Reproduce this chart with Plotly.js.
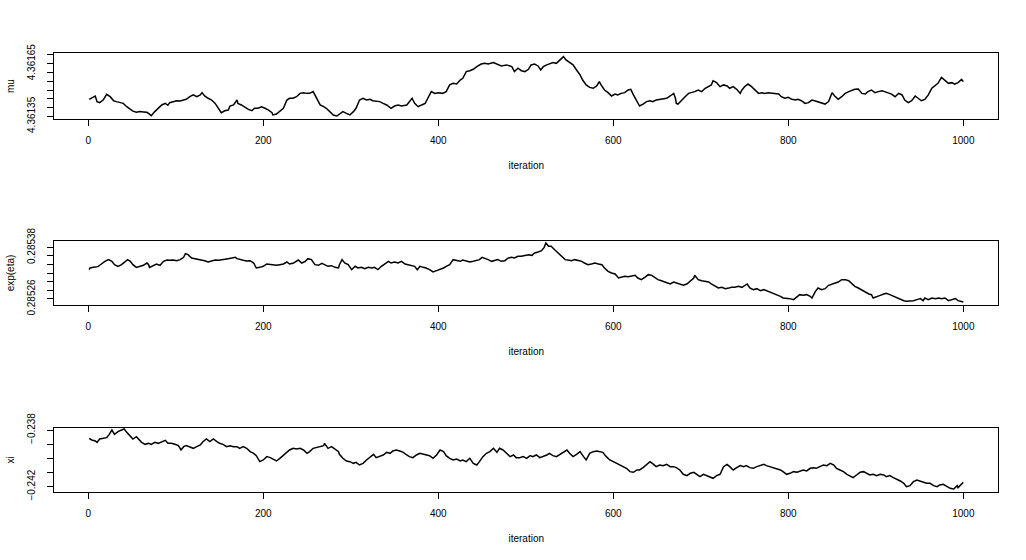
<!DOCTYPE html>
<html>
<head>
<meta charset="utf-8">
<script src="https://cdn.plot.ly/plotly-3.0.1.min.js"></script>
<style>html,body{margin:0;padding:0;background:#fff;}#chart{width:1026px;height:560px;}</style>
</head>
<body>
<div id="chart"></div>
<script>
// ---- data ----
const iterMu = [1,6,8,10,13,17,21,25,29,32,36,40,44,48,51,55,59,63,67,70,72,76,80,84,88,91,93,97,101,105,109,112,116,120,124,128,130,133,137,141,145,149,152,156,160,162,166,170,171,175,179,183,187,190,194,198,202,206,210,211,215,219,223,227,230,234,238,242,246,250,253,257,259,263,265,269,272,276,280,284,
287,291,295,299,303,306,310,314,318,322,325,329,333,337,341,346,350,354,358,364,367,370,373,377,381,385,388,392,396,400,405,409,413,417,421,425,428,432,436,440,444,449,453,457,463,467,472,478,484,487,491,495,499,503,506,510,514,517,520,524,527,531,535,539,543,546,550,554,558,562,565,569,573,577,581,584,586,590,594,598,602,605,609,613,617,620,623,626,630,634,638,642,645,649,655,661,
665,669,671,672,674,678,682,686,690,693,697,701,705,709,712,714,718,722,726,730,733,737,741,745,747,750,754,758,762,766,770,773,777,783,789,792,796,800,804,808,811,815,819,823,827,830,834,838,842,846,850,853,857,861,865,869,872,876,880,884,888,891,895,899,903,907,910,914,918,922,926,930,933,937,941,945,949,952,956,960,964,968,971,975,979,983,987,990,994,998,1000];
const mu = [4.361447,4.361458,4.361466,4.361434,4.361428,4.361443,4.361475,4.361462,4.361439,4.361434,
4.361428,4.361424,4.361405,4.361390,4.361380,4.361373,4.361377,4.361375,4.361373,4.361363,
4.361354,4.361377,4.361396,4.361415,4.361424,4.361413,4.361428,4.361434,4.361439,4.361437,
4.361443,4.361447,4.361462,4.361472,4.361462,4.361472,4.361485,4.361466,4.361453,4.361443,
4.361424,4.361396,4.361371,4.361382,4.361386,4.361409,4.361415,4.361443,4.361424,4.361415,
4.361401,4.361390,4.361382,4.361396,4.361396,4.361405,4.361396,4.361386,4.361371,4.361358,
4.361363,4.361377,4.361396,4.361443,4.361453,4.361453,4.361462,4.361481,4.361485,4.361481,
4.361481,4.361491,4.361472,4.361443,4.361415,4.361405,4.361396,4.361377,4.361358,4.361352,
4.361363,4.361377,4.361367,4.361358,4.361377,4.361396,4.361443,4.361453,4.361443,4.361447,
4.361439,4.361437,4.361434,4.361424,4.361415,4.361396,4.361409,4.361415,4.361409,4.361415,
4.361434,4.361453,4.361424,4.361405,4.361415,4.361424,4.361453,4.361491,4.361481,4.361485,
4.361481,4.361491,4.361529,4.361538,4.361534,4.361557,4.361567,4.361605,4.361610,4.361618,
4.361633,4.361648,4.361652,4.361648,4.361656,4.361648,4.361637,4.361643,4.361633,4.361605,
4.361624,4.361610,4.361605,4.361618,4.361643,4.361648,4.361637,4.361614,4.361633,4.361643,
4.361648,4.361656,4.361652,4.361671,4.361690,4.361671,4.361656,4.361643,4.361614,4.361586,
4.361557,4.361529,4.361515,4.361510,4.361523,4.361548,4.361529,4.361500,4.361485,4.361466,
4.361477,4.361472,4.361481,4.361485,4.361500,4.361504,4.361472,4.361443,4.361409,4.361420,
4.361434,4.361439,4.361434,4.361443,4.361447,4.361453,
4.361466,4.361481,4.361453,4.361424,4.361420,4.361443,4.361462,4.361481,4.361485,4.361491,
4.361500,4.361491,4.361510,4.361519,4.361529,4.361553,4.361542,4.361519,4.361529,4.361523,
4.361510,4.361519,4.361504,4.361481,4.361500,4.361519,4.361534,4.361519,4.361500,4.361481,
4.361485,4.361481,4.361485,4.361481,4.361477,4.361462,4.361453,4.361458,4.361447,4.361443,
4.361447,4.361439,4.361424,4.361428,4.361443,4.361439,4.361434,4.361428,4.361420,4.361434,
4.361485,4.361466,4.361447,4.361462,4.361481,4.361491,4.361496,4.361504,4.361506,4.361481,
4.361477,4.361491,4.361500,4.361485,4.361491,4.361496,4.361491,4.361485,4.361477,4.361462,
4.361481,4.361472,4.361443,4.361428,4.361439,4.361466,4.361453,4.361439,4.361447,4.361472,
4.361510,4.361529,4.361538,4.361572,4.361557,4.361538,4.361542,4.361534,4.361542,4.361561,
4.361548];

const iterEta = [1,2,6,11,15,19,23,27,30,34,38,42,45,48,51,55,59,63,67,69,70,74,78,82,86,90,93,97,101,105,109,111,114,118,122,126,130,133,137,141,145,149,152,156,160,164,168,170,173,177,181,185,189,192,196,200,204,208,211,215,219,223,227,230,234,238,240,244,248,251,255,259,263,267,270,274,278,282,286,
287,290,293,297,301,305,308,312,316,320,324,327,331,335,339,343,346,350,354,358,362,366,369,373,376,379,383,386,390,394,398,402,406,409,413,417,421,425,428,432,436,440,444,447,450,453,457,461,465,468,472,476,480,484,487,491,495,499,503,507,510,514,518,521,523,526,529,533,537,541,545,548,552,556,560,564,567,571,575,579,583,587,590,594,598,602,606,609,613,617,621,625,628,632,636,640,644,647,651,655,659,663,
665,669,672,676,680,684,688,692,693,697,701,705,709,712,716,720,724,728,732,735,739,743,747,751,753,756,760,764,768,772,775,779,783,787,791,794,798,802,806,810,813,817,821,825,827,831,834,838,842,846,850,853,857,861,865,869,872,876,880,884,888,892,895,897,901,905,909,912,916,920,924,928,932,935,939,943,947,951,954,956,960,964,968,972,975,979,983,987,991,994,998,1000];
const expEta = [0.2853282,0.2853321,0.2853336,0.2853352,0.2853414,0.2853476,0.2853515,0.2853476,0.2853398,0.2853360,
0.2853398,0.2853476,0.2853515,0.2853476,0.2853398,0.2853336,0.2853360,0.2853383,0.2853437,0.2853398,
0.2853336,0.2853383,0.2853414,0.2853383,0.2853476,0.2853507,0.2853499,0.2853507,0.2853491,0.2853515,
0.2853569,0.2853654,0.2853631,0.2853553,0.2853538,0.2853515,0.2853515,0.2853491,0.2853460,0.2853491,
0.2853507,0.2853499,0.2853515,0.2853522,0.2853538,0.2853553,0.2853569,0.2853538,0.2853515,0.2853499,
0.2853484,0.2853491,0.2853437,0.2853321,0.2853336,0.2853360,0.2853414,0.2853398,0.2853398,0.2853383,
0.2853398,0.2853414,0.2853460,0.2853414,0.2853429,0.2853476,0.2853507,0.2853437,0.2853476,0.2853538,
0.2853515,0.2853398,0.2853383,0.2853429,0.2853398,0.2853360,0.2853375,0.2853336,0.2853321,
0.2853398,0.2853515,0.2853437,0.2853398,0.2853282,0.2853360,0.2853321,0.2853336,0.2853305,0.2853336,
0.2853321,0.2853336,0.2853282,0.2853360,0.2853414,0.2853476,0.2853437,0.2853460,0.2853437,0.2853476,
0.2853414,0.2853398,0.2853383,0.2853360,0.2853282,0.2853360,0.2853336,0.2853321,0.2853282,0.2853228,
0.2853259,0.2853282,0.2853321,0.2853360,0.2853398,0.2853515,0.2853491,0.2853476,0.2853507,0.2853476,
0.2853460,0.2853476,0.2853491,0.2853515,0.2853569,0.2853538,0.2853515,0.2853476,0.2853491,0.2853515,
0.2853476,0.2853491,0.2853553,0.2853569,0.2853553,0.2853592,0.2853592,0.2853615,0.2853631,0.2853615,
0.2853670,0.2853693,0.2853724,0.2853801,0.2853902,0.2853825,0.2853825,0.2853747,0.2853670,0.2853592,
0.2853515,0.2853507,0.2853491,0.2853515,0.2853491,0.2853476,0.2853437,0.2853398,0.2853414,0.2853437,
0.2853414,0.2853398,0.2853321,0.2853243,0.2853205,0.2853181,0.2853088,0.2853104,0.2853127,0.2853119,
0.2853127,0.2853150,0.2853088,0.2853050,0.2853104,0.2853166,0.2853150,0.2853104,0.2853050,0.2853026,
0.2852995,0.2852949,
0.2852949,0.2852995,0.2852972,0.2852933,0.2852918,0.2852949,0.2853011,0.2853088,0.2853150,0.2853050,
0.2853026,0.2853011,0.2852995,0.2852949,0.2852895,0.2852856,0.2852871,0.2852840,0.2852856,0.2852871,
0.2852871,0.2852895,0.2852871,0.2852918,0.2852949,0.2852856,0.2852817,0.2852840,0.2852794,0.2852817,
0.2852794,0.2852763,0.2852740,0.2852701,0.2852662,0.2852623,0.2852623,0.2852608,0.2852585,0.2852662,
0.2852701,0.2852685,0.2852701,0.2852662,0.2852623,0.2852778,0.2852856,0.2852817,0.2852840,0.2852918,
0.2852949,0.2852972,0.2852995,0.2853050,0.2853050,0.2853026,0.2852972,0.2852895,0.2852856,0.2852817,
0.2852763,0.2852716,0.2852701,0.2852623,0.2852662,0.2852685,0.2852716,0.2852732,0.2852701,0.2852662,
0.2852623,0.2852585,0.2852561,0.2852546,0.2852546,0.2852561,0.2852585,0.2852608,0.2852561,0.2852623,
0.2852585,0.2852623,0.2852608,0.2852623,0.2852608,0.2852623,0.2852561,0.2852585,0.2852608,0.2852561,
0.2852546,0.2852530];

const iterXi = [1,4,8,10,13,17,21,24,27,30,34,38,41,44,48,51,55,57,61,65,69,72,76,80,84,88,91,95,99,103,106,109,112,116,120,124,128,131,135,139,143,147,150,154,158,162,166,170,173,177,181,185,189,192,196,200,204,208,211,215,219,223,227,230,234,238,242,246,250,253,257,261,265,269,270,274,278,282,286,
287,291,295,299,303,306,310,314,318,322,326,329,333,337,341,345,348,352,356,360,364,367,371,375,379,383,386,390,394,398,402,406,409,413,417,421,425,428,432,436,440,444,447,451,455,459,463,467,470,474,478,482,486,489,493,497,501,505,508,512,516,520,524,527,531,535,539,543,547,550,554,558,562,566,569,573,577,581,585,588,592,596,600,604,607,611,615,619,623,627,630,634,638,642,646,649,653,657,661,665,
669,672,676,680,684,688,692,695,699,703,707,711,714,718,722,726,730,733,737,741,745,749,752,756,760,764,768,772,775,779,783,787,791,794,798,802,806,810,813,817,821,825,829,832,836,840,844,848,852,855,859,863,867,871,874,878,882,886,890,893,897,901,905,909,912,916,920,924,928,932,935,939,943,947,951,954,958,962,966,970,973,977,981,985,989,993,994,998,1000];
const xi = [-0.238588,-0.238706,-0.238776,-0.238871,-0.238635,-0.238588,-0.238541,-0.238306,-0.238000,-0.238306,
-0.238118,-0.238000,-0.237929,-0.238165,-0.238471,-0.238635,-0.238471,-0.238588,-0.238871,-0.239012,
-0.238941,-0.239012,-0.238871,-0.238941,-0.238824,-0.238729,-0.238941,-0.238941,-0.239012,-0.239106,
-0.239412,-0.239177,-0.239106,-0.239177,-0.239294,-0.239177,-0.239059,-0.238824,-0.238635,-0.238824,
-0.238635,-0.238824,-0.238941,-0.239012,-0.239177,-0.239106,-0.239177,-0.239177,-0.239294,-0.239177,
-0.239294,-0.239529,-0.239647,-0.239812,-0.240235,-0.240118,-0.239882,-0.239953,-0.240047,-0.240188,
-0.240000,-0.239765,-0.239577,-0.239412,-0.239294,-0.239341,-0.239294,-0.239412,-0.239647,-0.239529,
-0.239294,-0.239247,-0.239177,-0.239106,-0.238941,-0.239294,-0.239177,-0.239341,-0.239529,
-0.239718,-0.240000,-0.240188,-0.240235,-0.240353,-0.240282,-0.240471,-0.240353,-0.240118,-0.239882,
-0.239718,-0.239953,-0.239882,-0.239765,-0.239577,-0.239647,-0.239482,-0.239412,-0.239482,-0.239577,
-0.239765,-0.239882,-0.239953,-0.239765,-0.239647,-0.239718,-0.239718,-0.239812,-0.240000,-0.239765,
-0.239412,-0.239529,-0.239812,-0.240000,-0.240118,-0.240047,-0.240188,-0.240118,-0.240235,-0.240000,
-0.240353,-0.240471,-0.240235,-0.239882,-0.239647,-0.239529,-0.239294,-0.239577,-0.239294,-0.239412,
-0.239647,-0.239882,-0.239765,-0.239953,-0.239953,-0.239882,-0.240000,-0.239812,-0.239882,-0.239765,
-0.239953,-0.239882,-0.239765,-0.239647,-0.239812,-0.239882,-0.239718,-0.239577,-0.239412,-0.239647,
-0.239882,-0.239718,-0.239529,-0.239882,-0.240118,-0.239647,-0.239529,-0.239482,-0.239529,-0.239577,
-0.239882,-0.240118,-0.240235,-0.240353,-0.240424,-0.240588,-0.240706,-0.240941,-0.240988,-0.240824,
-0.240824,-0.240659,-0.240471,-0.240235,-0.240424,-0.240588,-0.240471,-0.240518,-0.240424,-0.240588,
-0.240588,-0.240659,-0.240824,-0.241129,-0.241224,-0.241059,-0.240988,-0.241129,-0.241294,-0.241129,
-0.241224,-0.241365,-0.241412,-0.241224,-0.241129,-0.240588,-0.240424,-0.240588,-0.240824,-0.240659,
-0.240518,-0.240588,-0.240518,-0.240659,-0.240706,-0.240588,-0.240518,-0.240424,-0.240518,-0.240588,
-0.240659,-0.240753,-0.240824,-0.240941,-0.241129,-0.241059,-0.240941,-0.240988,-0.240894,-0.240824,
-0.240894,-0.240706,-0.240659,-0.240706,-0.240588,-0.240471,-0.240518,-0.240353,-0.240471,-0.240706,
-0.240824,-0.240941,-0.241129,-0.241294,-0.241365,-0.241177,-0.240988,-0.240941,-0.241059,-0.241177,
-0.241129,-0.241224,-0.241129,-0.241177,-0.241294,-0.241224,-0.241365,-0.241459,-0.241600,-0.241765,
-0.242000,-0.241930,-0.241647,-0.241530,-0.241600,-0.241647,-0.241765,-0.241765,-0.241930,-0.242000,
-0.241882,-0.241835,-0.242000,-0.242118,-0.242165,-0.241930,-0.242071,-0.241765,-0.241694];

// tick labels
const xTicks = [0, 200, 400, 600, 800, 1000];
const muTicks = [4.36135, 4.3614, 4.36145, 4.3615, 4.36155, 4.3616, 4.36165, 4.3617];
const muTickText = ['4.36135', '', '', '', '', '', '4.36165', ''];
const etaTicks = [0.28526, 0.28528, 0.2853, 0.28532, 0.28534, 0.28536, 0.28538];
const etaTickText = ['0.28526', '', '', '', '', '', '0.28538'];
const xiTicks = [-0.242, -0.241, -0.24, -0.239, -0.238];
const xiTickText = ['\u22120.242', '', '', '', '\u22120.238'];
const yNames = ['mu', 'exp(eta)', 'xi'];

// ---- chart ----
const font = {family: 'Liberation Sans, Arial, Helvetica, sans-serif', size: 10, color: '#000'};
const lineStyle = {color: '#000', width: 1.5};
const traces = [
  {x: iterMu, y: mu, xaxis: 'x', yaxis: 'y', type: 'scatter', mode: 'lines', line: lineStyle, hoverinfo: 'skip'},
  {x: iterEta, y: expEta, xaxis: 'x2', yaxis: 'y2', type: 'scatter', mode: 'lines', line: lineStyle, hoverinfo: 'skip'},
  {x: iterXi, y: xi, xaxis: 'x3', yaxis: 'y3', type: 'scatter', mode: 'lines', line: lineStyle, hoverinfo: 'skip'}
];
const xDomain = [0.0528, 0.9730];
function xAx(anchor) {
  return {
    domain: xDomain, anchor: anchor, range: [-38.96, 1039.96],
    tickmode: 'array', tickvals: xTicks, ticktext: xTicks.map(String),
    ticks: 'outside', ticklen: 6, tickwidth: 1, tickcolor: '#000',
    ticklabelstandoff: 6,
    showline: true, mirror: true, linecolor: '#000', linewidth: 1,
    showgrid: false, zeroline: false, tickfont: font,
    title: {text: 'iteration', font: font, standoff: 16}
  };
}
function yAx(anchor, dom, rng, tv, tt, name) {
  return {
    domain: dom, anchor: anchor, range: rng,
    tickmode: 'array', tickvals: tv, ticktext: tt, tickangle: -90,
    ticks: 'outside', ticklen: 6, tickwidth: 1, tickcolor: '#000',
    ticklabelstandoff: 8,
    showline: true, mirror: true, linecolor: '#000', linewidth: 1,
    showgrid: false, zeroline: false, tickfont: font,
    title: {text: name, font: font, standoff: 9}
  };
}
const layout = {
  width: 1026, height: 560,
  margin: {l: 0, r: 0, t: 0, b: 0},
  paper_bgcolor: '#fff', plot_bgcolor: '#fff',
  showlegend: false, font: font,
  xaxis: xAx('y'),
  xaxis2: xAx('y2'),
  xaxis3: xAx('y3'),
  yaxis: yAx('x', [0.7875, 0.9048], [4.361335, 4.361709], muTicks, muTickText, yNames[0]),
  yaxis2: yAx('x2', [0.4548, 0.5702], [0.2852453, 0.2853956], etaTicks, etaTickText, yNames[1]),
  yaxis3: yAx('x3', [0.1209, 0.2363], [-0.242400, -0.237835], xiTicks, xiTickText, yNames[2])
};
Plotly.newPlot('chart', traces, layout, {staticPlot: true, displayModeBar: false});
</script>
</body>
</html>
